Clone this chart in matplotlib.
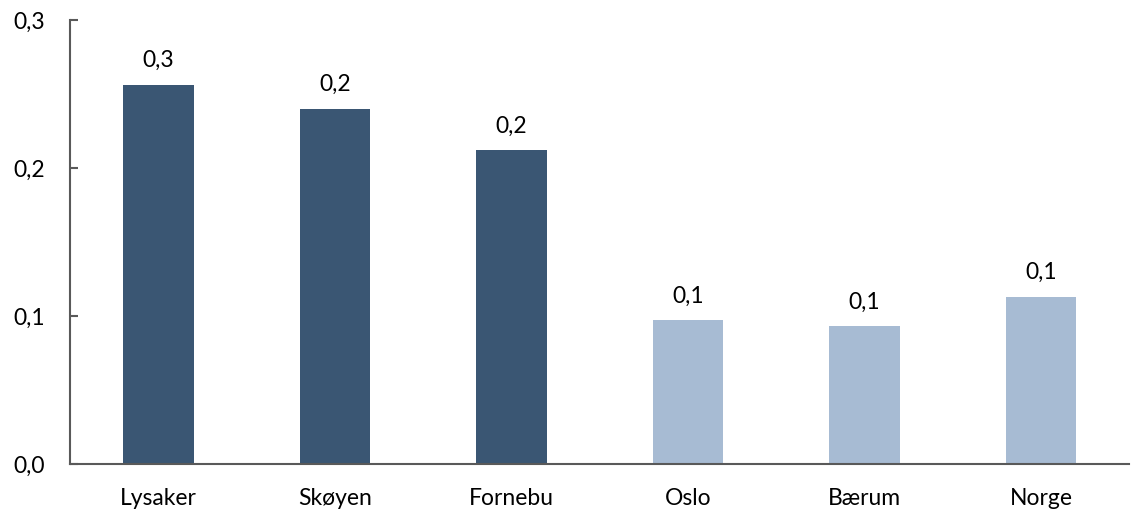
import matplotlib.pyplot as plt
from matplotlib.ticker import FuncFormatter

# Andel per område
categories = ["Lysaker", "Skøyen", "Fornebu", "Oslo", "Bærum", "Norge"]
values = [0.256, 0.240, 0.212, 0.097, 0.093, 0.113]
highlight = [True, True, True, False, False, False]

DARK = "#3A5673"
LIGHT = "#A7BBD3"
AXIS_COLOR = "#595959"

plt.rcParams['font.family'] = ['Lato', 'DejaVu Sans']

fig = plt.figure(figsize=(11.33, 5.16), dpi=100)
ax = fig.add_axes([0.0618, 0.1008, 0.935, 0.8604])

x = range(len(categories))
colors = [DARK if h else LIGHT for h in highlight]
bars = ax.bar(x, values, width=0.4, color=colors)

# verdietiketter over hver søyle
for rect, v in zip(bars, values):
    ax.annotate(f"{v:.1f}".replace(".", ","),
                xy=(rect.get_x() + rect.get_width() / 2, rect.get_height()),
                xytext=(0, 10), textcoords="offset points",
                ha="center", va="bottom", fontsize=16.5, color="black")

ax.set_xlim(-0.5, len(categories) - 0.5)
ax.set_ylim(0, 0.3)
ax.set_yticks([0, 0.1, 0.2, 0.3])
ax.yaxis.set_major_formatter(FuncFormatter(lambda v, _: f"{v:.1f}".replace(".", ",")))
ax.set_xticks(list(x))
ax.set_xticklabels(categories)

for side in ("top", "right"):
    ax.spines[side].set_visible(False)
for side in ("left", "bottom"):
    ax.spines[side].set_color(AXIS_COLOR)
    ax.spines[side].set_linewidth(1.5)

ax.tick_params(axis="y", direction="in", length=6, width=1.5, color=AXIS_COLOR,
               labelsize=16.5, pad=18)
ax.tick_params(axis="x", length=0, labelsize=16.5, pad=17)

fig.savefig("out.png", dpi=100)
